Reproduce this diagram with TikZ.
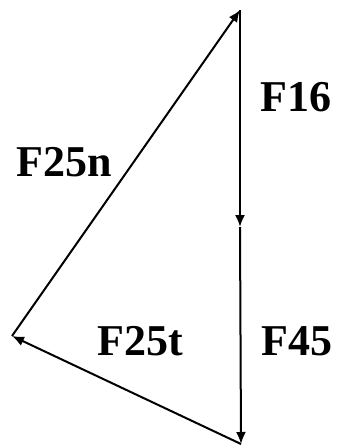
\documentclass[tikz,border=0pt]{standalone}
\usepackage{fontspec}
\setmainfont{Liberation Serif}
\usetikzlibrary{arrows.meta}
\tikzset{force/.style={line width=2pt,-{Latex[length=12pt,width=10pt]}},
  flabel/.style={font=\bfseries\fontsize{44}{44}\selectfont,inner sep=0pt}}
\begin{document}
\begin{tikzpicture}[x=1pt,y=-1pt]
    \useasboundingbox (0,0) rectangle (338,447);
    \coordinate (top) at (240,10);
    \coordinate (mid) at (240,227);
    \coordinate (bot) at (241,444);
    \coordinate (lft) at (12,336);
    \draw[force] (top) -- (mid);
    \draw[force] (mid) -- (bot);
    \draw[force] (bot) -- (lft);
    \draw[force] (lft) -- (top);
    \node[flabel] (f16) at (296,97) {F16};
    \node[flabel] (f45) at (297,341) {F45};
    \node[flabel] (f25t) at (140,341) {F25t};
    \node[flabel] (f25n) at (64,162) {F25n};
   \end{tikzpicture}
\end{document}
